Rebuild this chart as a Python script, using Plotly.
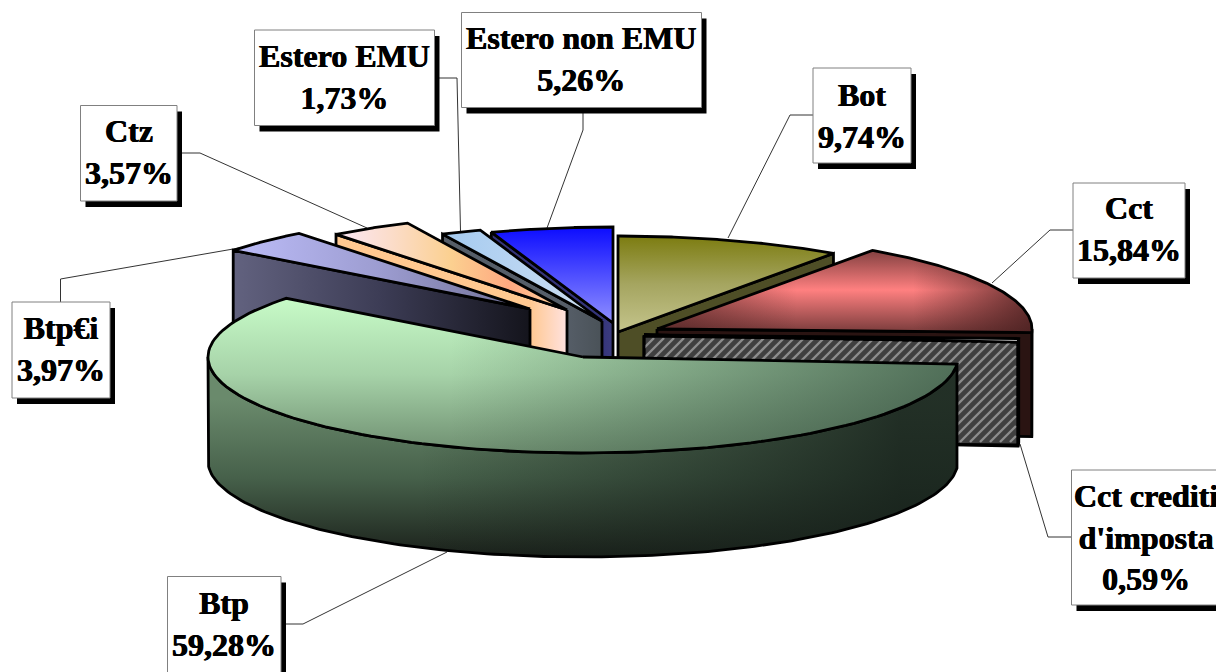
import numpy as np
import plotly.graph_objects as go

# ---- data ----
categories = ["Bot", "Cct", "Cct crediti<br>d'imposta", "Btp", "Btp€i", "Ctz", "Estero EMU", "Estero non EMU"]
values = [9.74, 15.84, 0.59, 59.28, 3.97, 3.57, 1.73, 5.26]

# ---- pie geometry (page pixels) ----
RX, RY, DEPTH = 375, 96, 104
apex_x = [618, 657, 644, 583, 530, 567, 602, 613]
apex_y = [332, 329, 335, 357, 309, 310, 321, 323]
face_side = ["end", "end", "end", None, "start", "start", "start", "start"]
draw_order = [0, 1, 2, 7, 6, 5, 4, 3]

V = "vertical"
H = "horizontal"
def cs(*c):
    n = len(c) - 1
    return [[i / n, col] for i, col in enumerate(c)]

# top gradients: (orientation, start, stop, colours), optional overlay
top_style = {
    0: [(V, 236, 332, ["#7c7c10", "#a5a560", "#c4c48c"])],
    1: [(V, 248, 332, ["#7a3c3c", "#ff8080", "#7a3c3c"]),
        (H, 680, 1030, ["rgba(70,30,30,0.55)", "rgba(70,30,30,0)", "rgba(70,30,30,0)", "rgba(70,30,30,0.8)"])],
    2: [(V, 333, 342, ["#ffffff", "#ffffff"])],
    3: [(V, 297, 453, ["#c8fcc8", "#a6d2a8", "#6e8e70"]),
        (H, 450, 958, ["rgba(50,75,60,0)", "rgba(50,75,60,0.75)"])],
    4: [(H, 234, 530, ["#bcbcf8", "#9c9cd0", "#6e6e94"])],
    5: [(H, 335, 567, ["#fbe8f8", "#fbdcc8", "#fbd090", "#ffa880", "#ffd8a0"])],
    6: [(H, 442, 602, ["#a4caf0", "#cfe0f2"])],
    7: [(V, 227, 323, ["#0c0cff", "#9090ff"])],
}
face_style = {
    0: (H, 618, 834, ["#4e4e26", "#4e4e26"]),
    1: (H, 657, 1031, ["#2a1412", "#2a1412"]),
    2: (H, 644, 1020, ["#3f3f3f", "#3f3f3f"]),
    4: (H, 234, 530, ["#62627f", "#3c3c55", "#14141c"]),
    5: (H, 530, 567, ["#ffc890", "#ffe2e0"]),
    6: (H, 565, 602, ["#565e68", "#4a5258"]),
    7: (H, 600, 613, ["#34347a", "#3c3c80"]),
}

# ---- labels ----
box_x0 = [813, 1073, 1071.5, 167.5, 12, 80.5, 254.5, 461.5]
box_y0 = [68, 183, 470, 576.5, 302, 105.5, 30, 12.5]
box_x1 = [911, 1185, 1221, 281, 110, 177, 434.5, 701.5]
box_y1 = [163, 278, 605, 673, 398, 201, 125.5, 107.5]
text_cx = [862, 1129, 1146, 224, 61, 128.5, 344.5, 581.5]
text_cy = [116, 229, 537, 624, 349, 152, 77, 59]
lead_x = [[813, 790, 728], [1073, 1050, 992], [1071, 1048, 1020], [281, 303, 447],
          [60.5, 60.5, 239], [178, 200, 367], [434, 457, 460.5], [583, 583, 547]]
lead_y = [[115, 115, 238], [230, 230, 283], [537, 537, 444], [624, 624, 552],
          [302, 279, 248], [153, 153, 228], [78, 78, 231], [108, 130, 228]]

# ---- angles from the values ----
cum = np.cumsum([0] + values)
ang0 = cum[:-1] / cum[-1] * 2 * np.pi
ang1 = cum[1:] / cum[-1] * 2 * np.pi

fig = go.Figure()

def poly(xs, ys, style, line=True):
    """Filled polygon with a gradient; the outline is added by the last layer."""
    layers = style if isinstance(style, list) else [style]
    for k, (ori, a, b, cols) in enumerate(layers):
        fig.add_trace(go.Scatter(
            x=xs, y=ys, mode="lines", fill="toself",
            fillgradient=dict(type=ori, start=a, stop=b, colorscale=cs(*cols)),
            line=dict(color="black", width=2.8) if (line and k == len(layers) - 1) else dict(width=0, color="rgba(0,0,0,0)"),
            hoverinfo="skip", showlegend=False))

# leader lines
for lx, ly in zip(lead_x, lead_y):
    fig.add_trace(go.Scatter(x=lx, y=ly, mode="lines", line=dict(color="#333333", width=1),
                             hoverinfo="skip", showlegend=False))

for i in draw_order:
    ax, ay = apex_x[i], apex_y[i]
    t = np.linspace(ang0[i], ang1[i], 120)
    ex = ax + RX * np.sin(t)
    ey = ay - RY * np.cos(t)

    # outer rim
    lo, hi = max(ang0[i], np.pi / 2), min(ang1[i], 1.5 * np.pi)
    if hi > lo:
        r = np.linspace(lo, hi, 160)
        rx = ax + RX * np.sin(r)
        ry = ay - RY * np.cos(r)
        poly(np.r_[rx, rx[::-1], rx[0]], np.r_[ry, ry[::-1] + DEPTH, ry[0]],
             [(V, 400, 557, ["#6a8a6c", "#46604a", "#1a201a"]),
              (H, 420, 900, ["rgba(22,32,26,0)", "rgba(22,32,26,0.85)"])])

    # radial cut face
    if face_side[i]:
        a = ang0[i] if face_side[i] == "start" else ang1[i]
        fx = ax + RX * np.sin(a)
        fy = ay - RY * np.cos(a)
        poly([ax, fx, fx, ax, ax], [ay, fy, fy + DEPTH, ay + DEPTH, ay], face_style[i])

    # hatch of the small slice
    if i == 2:
        a = ang1[i]
        fx = ax + RX * np.sin(a)
        top, bot = ay + 3, ay + DEPTH + 3
        hx, hy = [], []
        for c in np.arange(ax - DEPTH, fx, 10.0):
            x0 = max(c, ax)
            x1 = min(c + DEPTH, fx - 2)
            if x1 > x0:
                hx += [x0, x1, None]
                hy += [bot - (x0 - c), bot - (x1 - c), None]
        fig.add_trace(go.Scatter(x=hx, y=hy, mode="lines", line=dict(color="#8c8c8c", width=2.4),
                                 hoverinfo="skip", showlegend=False))
        fig.add_trace(go.Scatter(x=[ax, fx, fx, ax, ax], y=[top - 2, top + 3, bot + 3, bot, top - 2], mode="lines",
                                 line=dict(color="black", width=2.8), hoverinfo="skip", showlegend=False))

    # top surface
    poly(np.r_[ax, ex, ax], np.r_[ay, ey, ay], top_style[i])

# label boxes and text
shapes, annots = [], []
for i in range(len(categories)):
    x0, y0, x1, y1 = box_x0[i], box_y0[i], box_x1[i], box_y1[i]
    shapes.append(dict(type="rect", x0=x0 + 5, y0=y0 + 6, x1=x1 + 5, y1=y1 + 6,
                       fillcolor="black", line=dict(width=0), layer="above"))
    shapes.append(dict(type="rect", x0=x0, y0=y0, x1=x1, y1=y1, fillcolor="white",
                       line=dict(color="#808080", width=1), layer="above"))
    txt = f"{categories[i]}<br>{values[i]:.2f}%".replace(".", ",")
    annots.append(dict(x=text_cx[i], y=text_cy[i], text=f"<b>{txt}</b>", showarrow=False,
                       xanchor="center", yanchor="middle", align="center",
                       font=dict(family="Liberation Serif", size=32, color="black",
                                 shadow="0.4px 0 0 black, -0.4px 0 0 black")))

fig.update_layout(
    width=1216, height=672, autosize=False, margin=dict(l=0, r=0, t=0, b=0),
    paper_bgcolor="white", plot_bgcolor="white", showlegend=False,
    xaxis=dict(range=[0, 1216], visible=False, fixedrange=True),
    yaxis=dict(range=[672, 0], visible=False, fixedrange=True),
    shapes=shapes, annotations=annots,
)
fig.write_html("out.html", config={"displayModeBar": False},
               post_script="document.body.style.margin='0';document.body.style.overflow='hidden';")
